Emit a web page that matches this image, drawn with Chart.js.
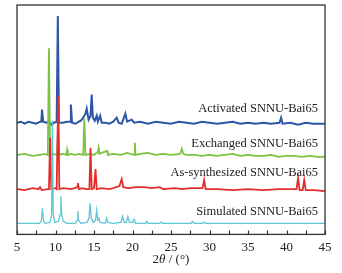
<!DOCTYPE html>
<html>
<head>
<meta charset="utf-8">
<script src="https://cdn.jsdelivr.net/npm/chart.js@4.4.0/dist/chart.umd.min.js"></script>
<style>
  html, body { margin: 0; padding: 0; background: #fff; }
  #wrap { width: 342px; height: 273px; }
</style>
</head>
<body>
<div id="wrap"><canvas id="xrd"></canvas></div>
<script>
// XRD patterns, [2theta, offset intensity]
const activated = [
  [5, 111], [5.5, 112], [6, 110], [6.5, 112], [7, 111], [7.5, 110], [8.0, 112], [8.15, 112],
  [8.25, 124], [8.4, 112], [8.8, 111], [9.2, 112], [9.5, 109], [9.8, 111], [10.15, 112],
  [10.3, 217], [10.45, 111], [11, 111], [11.5, 112], [11.9, 112], [12.0, 129], [12.15, 111],
  [12.6, 110], [13.0, 112], [13.3, 113], [13.6, 116], [13.9, 120], [14.05, 125], [14.3, 114],
  [14.55, 118], [14.7, 139], [14.85, 116], [15.1, 113], [15.35, 118], [15.5, 112], [15.8, 118],
  [16.0, 111], [16.5, 111], [17.0, 110], [17.5, 112], [17.95, 116], [18.2, 111], [18.6, 110],
  [19.07, 120], [19.3, 112], [19.9, 114], [20.2, 111], [21, 112], [22, 110], [23, 112],
  [24, 111], [25, 110], [26, 112], [27, 111], [28, 110], [29, 112], [30, 111], [31, 110],
  [32, 111], [33, 112], [34, 110], [35, 111], [36, 110], [37, 111], [38, 110], [39.1, 111],
  [39.3, 116], [39.5, 110], [40.5, 111], [41.5, 109], [42.5, 111], [43.5, 110], [45, 110]
];
const exchanged = [
  [5, 79], [6, 80], [7, 78], [8, 79], [8.6, 80], [9.0, 79], [9.15, 185], [9.3, 79], [9.7, 80],
  [10.2, 79], [10.35, 106], [10.5, 79], [11.0, 80], [11.4, 79], [11.5, 84], [11.6, 79], [12, 80],
  [12.5, 79], [13, 80], [13.6, 79], [13.74, 115], [13.9, 79], [14.5, 80], [15.0, 79], [15.5, 82],
  [15.6, 86], [15.7, 80], [16.0, 81], [16.7, 83], [16.8, 79], [17.5, 80], [18.5, 79], [19.3, 81],
  [20.2, 79], [20.3, 91], [20.4, 79], [21, 80], [22, 81], [23, 79], [24, 80], [25, 79], [26.2, 80],
  [26.4, 85], [26.6, 80], [27, 79], [28, 79], [29, 78], [30, 79], [31, 78], [32, 79], [33, 80],
  [34, 78], [35, 79], [36, 78], [37, 78], [38, 79], [39, 77], [40, 78], [41, 78], [42, 77],
  [43, 78], [44, 77], [45, 77]
];
const asSynthesized = [
  [5, 45], [6, 44], [7, 46], [7.8, 45], [8, 47], [8.2, 44], [9.0, 45], [9.15, 45], [9.3, 96],
  [9.45, 45], [10.0, 46], [10.15, 45], [10.35, 138], [10.5, 45], [11, 46], [12, 45], [12.5, 46],
  [12.8, 47], [12.9, 51], [13.05, 45], [13.5, 46], [14.0, 45], [14.4, 45], [14.55, 86], [14.7, 45],
  [15.0, 46], [15.2, 65], [15.35, 45], [16, 46], [17, 45], [17.5, 46], [18.3, 48], [18.6, 55],
  [18.8, 47], [19.5, 46], [20.5, 47], [21.5, 47], [22.5, 46], [23.5, 47], [24, 45], [25.5, 46],
  [26.5, 45], [27.5, 46], [29.1, 46], [29.3, 54], [29.5, 45], [31, 45], [33, 44], [35, 45],
  [37, 44], [39, 45], [41.3, 45], [41.5, 56], [41.7, 44], [42.1, 44], [42.3, 54], [42.5, 44],
  [43.5, 44], [45, 43]
];
const simulated = [
  [5, 11], [7.9, 11], [8.15, 13], [8.3, 26], [8.45, 13], [8.7, 11], [9.3, 12], [9.5, 20],
  [9.6, 113], [9.7, 20], [9.9, 12], [10.4, 13], [10.6, 20], [10.7, 38], [10.8, 20], [11.0, 13],
  [11.5, 11], [12.6, 11], [12.8, 14], [12.9, 23], [13.0, 14], [13.3, 11], [14.1, 12], [14.35, 16],
  [14.5, 31], [14.65, 16], [14.9, 12], [15.2, 14], [15.35, 24], [15.5, 14], [15.65, 16], [15.8, 12],
  [16.4, 11], [16.55, 13], [16.65, 16], [16.8, 12], [17.5, 11], [18.5, 12], [18.7, 18], [18.9, 12],
  [19.2, 12], [19.4, 18], [19.6, 12], [20.0, 12], [20.2, 15], [20.4, 11], [21.7, 11], [21.85, 13],
  [22.0, 11], [23.5, 11], [23.7, 12], [23.9, 11], [25, 11], [27.6, 11], [27.8, 13], [28, 11],
  [29, 11], [29.3, 12], [29.5, 11], [45, 11]
];

const seriesNames = ['Simulated SNNU-Bai65', 'As-synthesized SNNU-Bai65', 'Exchanged SNNU-Bai65', 'Activated SNNU-Bai65'];
const xTicks = [5, 10, 15, 20, 25, 30, 35, 40, 45];
const minorTicks = [7.5, 12.5, 17.5, 22.5, 27.5, 32.5, 37.5, 42.5];

const serif = "'Liberation Serif', 'DejaVu Serif', serif";

function toPoints(arr) {
  return arr.map(p => ({ x: p[0], y: p[1] }));
}

// frame, inward ticks, curve labels and the axis title
const decorations = {
  id: 'decorations',
  afterDatasetsDraw(chart) {
    const ctx = chart.ctx;
    const area = chart.chartArea;
    const x = chart.scales.x;
    const y = chart.scales.y;

    ctx.save();
    ctx.strokeStyle = '#333';
    ctx.lineWidth = 1.3;
    ctx.strokeRect(area.left, area.top, area.right - area.left, area.bottom - area.top);

    ctx.lineWidth = 1.2;
    ctx.beginPath();
    xTicks.concat(minorTicks).forEach(v => {
      const px = Math.round(x.getPixelForValue(v)) + 0.5;
      ctx.moveTo(px, area.bottom);
      ctx.lineTo(px, area.bottom - 4);
    });
    ctx.stroke();

    const labelOffsets = [12, 16, 11, 14];
    const bases = [simulated[0][1], asSynthesized[0][1], exchanged[0][1], activated[0][1]];
    ctx.fillStyle = '#222';
    ctx.font = '12.5px ' + serif;
    ctx.textAlign = 'right';
    ctx.textBaseline = 'middle';
    seriesNames.forEach((name, i) => {
      ctx.fillText(name, area.right - 7, y.getPixelForValue(bases[i]) - labelOffsets[i]);
    });

    // 2θ / (°) with italic theta
    const parts = [['2', 'normal'], ['θ', 'italic'], [' / (°)', 'normal']];
    let total = 0;
    parts.forEach(p => {
      ctx.font = p[1] + ' 13px ' + serif;
      total += ctx.measureText(p[0]).width;
    });
    let tx = (area.left + area.right) / 2 - total / 2;
    const ty = area.bottom + 25;
    ctx.textAlign = 'left';
    parts.forEach(p => {
      ctx.font = p[1] + ' 13px ' + serif;
      ctx.fillText(p[0], tx, ty);
      tx += ctx.measureText(p[0]).width;
    });
    ctx.restore();
  }
};

const line = (data, color, width) => ({
  data: toPoints(data),
  borderColor: color,
  borderWidth: width,
  pointRadius: 0,
  tension: 0,
  fill: false
});

new Chart(document.getElementById('xrd'), {
  type: 'line',
  data: {
    // first dataset is painted last, so it sits on top
    datasets: [
      line(simulated, '#5cc6d4', 1.3),
      line(asSynthesized, '#e52b2b', 1.8),
      line(exchanged, '#7cc243', 1.8),
      line(activated, '#2d56a6', 2.0)
    ]
  },
  options: {
    responsive: true,
    maintainAspectRatio: false,
    animation: false,
    layout: { padding: { left: 17, right: 17, top: 5, bottom: 13 } },
    plugins: { legend: { display: false }, tooltip: { enabled: false } },
    scales: {
      x: {
        type: 'linear',
        min: 5,
        max: 45,
        afterBuildTicks: axis => { axis.ticks = xTicks.map(v => ({ value: v })); },
        grid: { display: false, drawTicks: false },
        border: { display: false },
        ticks: { color: '#222', padding: 5, font: { family: serif, size: 13 } }
      },
      y: {
        display: false,
        min: 0,
        max: 228
      }
    }
  },
  plugins: [decorations]
});
</script>
</body>
</html>
